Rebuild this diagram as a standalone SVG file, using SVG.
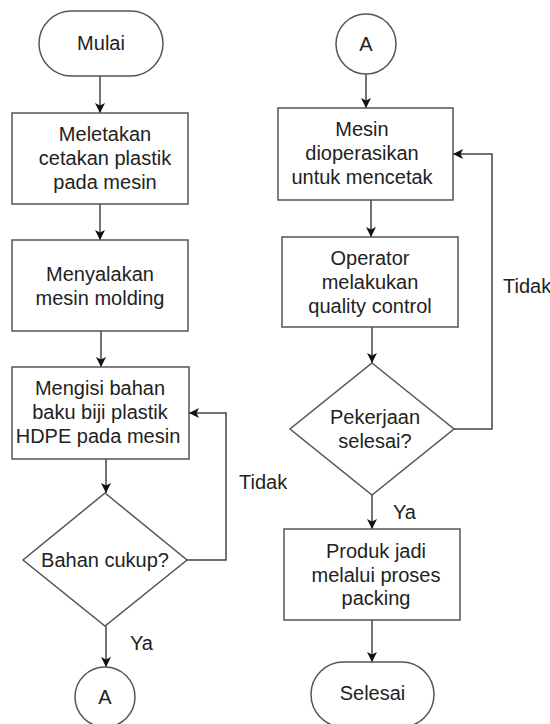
<svg xmlns="http://www.w3.org/2000/svg" width="550" height="724" viewBox="0 0 550 724">
<defs>
<marker id="arr" viewBox="0 0 10 10" refX="10" refY="5" markerWidth="10" markerHeight="10" markerUnits="userSpaceOnUse" orient="auto">
<path d="M0,0 L10,5 L0,10 L2.5,5 Z" fill="#111"/>
</marker>
<style>
.s{fill:#fff;stroke:#555;stroke-width:1.5}
.c{fill:none;stroke:#444;stroke-width:1.5;marker-end:url(#arr)}
text{font-family:"Liberation Sans",Arial,sans-serif;font-size:20px;fill:#222;text-anchor:middle}
.l{text-anchor:start}
</style>
</defs>
<rect width="550" height="724" fill="#fff"/>
<g id="connectors">
<path class="c" d="M100,76 V113"/>
<path class="c" d="M100,204 V240"/>
<path class="c" d="M101,331 V367"/>
<path class="c" d="M106,459 V493"/>
<path class="c" d="M186,560 H226 V413 H189"/>
<path class="c" d="M106,626 V667"/>
<path class="c" d="M366,74 V108"/>
<path class="c" d="M371,200 V237"/>
<path class="c" d="M372,327 V363"/>
<path class="c" d="M454,429 H492 V154 H453"/>
<path class="c" d="M372,495 V529"/>
<path class="c" d="M372,620 V662"/>
<text class="l" x="239" y="489">Tidak</text>
<text class="l" x="130" y="650">Ya</text>
<text class="l" x="503" y="293">Tidak</text>
<text class="l" x="393" y="519">Ya</text>
</g>
<g id="mulai">
<rect class="s" x="39" y="11" width="124" height="65" rx="32.5"/>
<text x="101" y="50">Mulai</text>
</g>
<g id="meletakan">
<rect class="s" x="12" y="113" width="176" height="91"/>
<text x="105" y="141">Meletakan</text>
<text x="105" y="165">cetakan plastik</text>
<text x="105" y="189">pada mesin</text>
</g>
<g id="menyalakan">
<rect class="s" x="12" y="240" width="176" height="91"/>
<text x="100" y="281">Menyalakan</text>
<text x="100" y="305">mesin molding</text>
</g>
<g id="mengisi">
<rect class="s" x="12" y="367" width="177" height="92"/>
<text x="100" y="395">Mengisi bahan</text>
<text x="100" y="419">baku biji plastik</text>
<text x="98" y="443">HDPE pada mesin</text>
</g>
<g id="bahan-cukup">
<polygon class="s" points="105,493 187,560 105,626 23,560"/>
<text x="105" y="567">Bahan cukup?</text>
</g>
<g id="a-left">
<circle class="s" cx="105" cy="697" r="30"/>
<text x="105" y="704">A</text>
</g>
<g id="a-right">
<circle class="s" cx="366" cy="44" r="30"/>
<text x="366" y="51">A</text>
</g>
<g id="mesin-dioperasikan">
<rect class="s" x="278" y="108" width="175" height="92"/>
<text x="362" y="136">Mesin</text>
<text x="362" y="160">dioperasikan</text>
<text x="362" y="184">untuk mencetak</text>
</g>
<g id="operator">
<rect class="s" x="282" y="237" width="176" height="90"/>
<text x="370" y="265">Operator</text>
<text x="370" y="289">melakukan</text>
<text x="370" y="313">quality control</text>
</g>
<g id="pekerjaan-selesai">
<polygon class="s" points="372,363 454,429 372,495 290,429"/>
<text x="375" y="424">Pekerjaan</text>
<text x="375" y="448">selesai?</text>
</g>
<g id="produk-jadi">
<rect class="s" x="284" y="529" width="176" height="91"/>
<text x="376" y="558">Produk jadi</text>
<text x="376" y="582">melalui proses</text>
<text x="376" y="605">packing</text>
</g>
<g id="selesai">
<rect class="s" x="311" y="662" width="123" height="65" rx="32.5"/>
<text x="372.5" y="700">Selesai</text>
</g>
</svg>
